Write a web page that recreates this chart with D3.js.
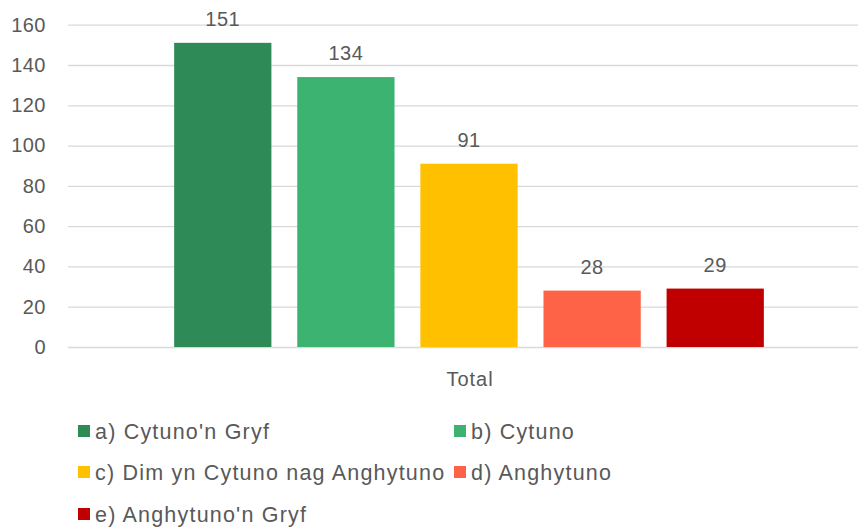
<!DOCTYPE html>
<html>
<head>
<meta charset="utf-8">
<script src="https://cdn.jsdelivr.net/npm/d3@7"></script>
<style>
  html, body { margin: 0; padding: 0; background: #fff; }
  svg { display: block; font-family: "Liberation Sans", Arial, sans-serif; }
</style>
</head>
<body>
<svg id="chart" width="858" height="529"></svg>
<script>
const categories = ["Total"];
const seriesNames = ["a) Cytuno'n Gryf", "b) Cytuno", "c) Dim yn Cytuno nag Anghytuno", "d) Anghytuno", "e) Anghytuno'n Gryf"];
const seriesValues = [151, 134, 91, 28, 29];
const seriesColors = ["#2E8B57", "#3CB371", "#FFC000", "#FF6347", "#C00000"];
const yTicks = [0, 20, 40, 60, 80, 100, 120, 140, 160];

const svg = d3.select("#chart");
const textColor = "#595959";
const plotLeft = 68, plotRight = 870, plotTop = 24.7, plotBottom = 347;

const y = d3.scaleLinear().domain([0, 160]).range([plotBottom, plotTop]);
const x0 = d3.scaleBand().domain(categories).range([plotLeft, plotRight]).paddingInner(0).paddingOuter(0.18);
const x1 = d3.scaleBand().domain(seriesNames).range([0, x0.bandwidth()]).paddingInner(0.21).paddingOuter(0);

// gridlines
const yAxis = d3.axisLeft(y).tickValues(yTicks).tickSize(-(858 - plotLeft)).tickPadding(22);
const ga = svg.append("g").attr("transform", `translate(${plotLeft},0)`).call(yAxis);
ga.select(".domain").remove();
ga.selectAll(".tick line").attr("stroke", "#D9D9D9").attr("stroke-width", 1.3);
ga.selectAll(".tick text").attr("fill", textColor).style("font-size", "20px").attr("letter-spacing", "0.5px");

// bars
const g = svg.append("g");
categories.forEach(cat => {
  seriesNames.forEach((s, i) => {
    const v = seriesValues[i];
    const bx = x0(cat) + x1(s);
    g.append("rect")
      .attr("x", bx).attr("y", y(v))
      .attr("width", x1.bandwidth()).attr("height", y(0) - y(v))
      .attr("fill", seriesColors[i]);
    g.append("text")
      .attr("x", bx + x1.bandwidth() / 2).attr("y", y(v) - 17)
      .attr("text-anchor", "middle").attr("fill", textColor)
      .style("font-size", "20px").attr("letter-spacing", "0.5px")
      .text(v);
  });
  svg.append("text")
    .attr("x", x0(cat) + x0.bandwidth() / 2 + 1).attr("y", 386)
    .attr("text-anchor", "middle").attr("fill", textColor)
    .style("font-size", "20px").attr("letter-spacing", "1px")
    .text(cat);
});

// legend
const legendPos = [[78, 431], [454, 431], [78, 472], [454, 472], [78, 514]];
seriesNames.forEach((s, i) => {
  const [lx, ly] = legendPos[i];
  svg.append("rect").attr("x", lx).attr("y", ly - 6).attr("width", 12).attr("height", 12).attr("fill", seriesColors[i]);
  svg.append("text").attr("x", lx + 17).attr("y", ly + 7.5)
    .attr("fill", textColor).style("font-size", "21.5px").attr("letter-spacing", "1.2px")
    .text(s);
});
</script>
</body>
</html>
